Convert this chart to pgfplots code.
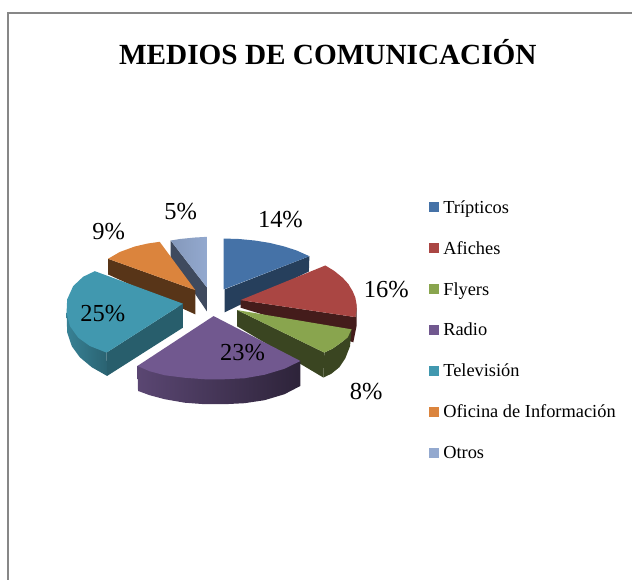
\documentclass[border=0pt]{standalone}
\usepackage{fontspec}
\setmainfont{Liberation Serif}
\usepackage{pgfplots}
\pgfplotsset{compat=1.18}
\definecolor{cblue}{HTML}{4572A7}
\definecolor{cred}{HTML}{AA4643}
\definecolor{cgreen}{HTML}{89A54E}
\definecolor{cpurple}{HTML}{71588F}
\definecolor{cteal}{HTML}{4198AF}
\definecolor{corange}{HTML}{DB843D}
\definecolor{clight}{HTML}{93A9CF}
\definecolor{cslate}{HTML}{3F4A5E}
\pgfplotsset{
  face/.style={draw=none,forget plot,mark=none,fill=#1},
  sface/.style 2 args={draw=none,forget plot,mark=none,left color=#1,right color=#2},
  leg/.style={legend image code/.code={\fill[##1] (0pt,-5pt) rectangle (10pt,5pt);},fill=#1,draw=none},
}
\begin{document}
\begin{tikzpicture}
\begin{axis}[
    scale only axis,
    width=633pt, height=581pt,
    xmin=0, xmax=633, ymin=0, ymax=581,
    y dir=reverse,
    hide axis,
    clip=false,
    legend style={at={(axis cs:430,198.5)},anchor=north west,draw=none,fill=none,
      font=\fontsize{18.4}{18.4}\selectfont,row sep=22.7pt,column sep=2pt,inner sep=0pt,
      nodes={inner sep=2pt}},
    legend cell align=left,
    ]
% page extent
\addplot[draw=none,forget plot,mark=none] coordinates {(0,0) (633,581)};
% frame
\addplot[draw=black!47,line width=2.5pt,forget plot,mark=none] coordinates {(8,581) (8,13) (633,13)};
% Otros
\addplot[face=cslate] coordinates {(171,241) (207.3,288) (207.3,312) (171,258)};
\addplot[sface={clight!90!black}{clight}] coordinates {(171,241) (180,239.5) (195,238) (207.3,237.3) (207.3,288)};
% Oficina
\addplot[face=corange!40!black] coordinates {(108.3,259.3) (195.7,290.7) (195.7,315) (108.3,275)};
\addplot[face=corange] coordinates {(108.3,259.3) (120,252.5) (135,247) (148,244) (160,242.3) (195.7,290.7)};
% Television
\addplot[sface={cteal!85!black}{cteal!65!black}] coordinates {(66.7,313) (67.3,333) (72,347) (80,358) (92,368) (107.3,376.7) (106.7,350) (70,320)};
\addplot[face=cteal!62!black] coordinates {(106.7,353.3) (183.3,304.3) (183.3,328.3) (107.3,376.7)};
\addplot[face=cteal] coordinates {(95,271.7) (83.3,277.3) (73.3,286.7) (67.3,300) (66.7,313.3) (70,326.7) (78.3,338.3) (90,346.7) (106.7,353.3) (183.3,304.3)};
% Tripticos
\addplot[face=cblue!55!black] coordinates {(225,290) (310,256.7) (309.5,272) (225,313)};
\addplot[face=cblue] coordinates {(224,239) (239.8,239.5) (255.3,241) (270.2,243.4) (284.2,246.8) (297,250.9) (310,256.7) (224,290)};
% Afiches
\addplot[face=cred!40!black] coordinates {(241,300.7) (356,317.7) (357.3,305) (357.4,326) (354,343) (345,340) (241,308.3)};
\addplot[face=cred] coordinates {(326,266) (335,271.5) (343.3,278.3) (349,284.5) (353.3,291.7) (356,298) (357.3,305) (357.2,311) (356,317.7) (241,300.7)};
% Flyers
\addplot[face=cgreen!42!black] coordinates {(352.3,330) (348.3,338.3) (341.7,343.3) (333.3,349.3) (325,353.3) (324,378.3) (332,374.5) (340,368) (346,359) (350.7,347)};
\addplot[face=cgreen!42!black] coordinates {(237.7,310.7) (325,353.3) (324,378.3) (237.7,327)};
\addplot[face=cgreen] coordinates {(237.7,310.7) (352.3,330) (348.3,338.3) (341.7,343.3) (333.3,349.3) (325,353.3)};
% Radio
\addplot[sface={cpurple!80!black}{cpurple!40!black}] coordinates {(137.7,366.7) (301,361.7) (301,386.7) (285,395) (265,401) (245,404) (225,405) (205,405) (185,403.5) (165,400) (150,396) (138.3,391.7)};
\addplot[face=cpurple] coordinates {(214,316.7) (137.7,366.7) (150,372) (165,376) (185,378.5) (205,380) (225,380) (245,379) (265,375.5) (285,369.5) (301,361.7)};
% data labels
\addplot[draw=none,mark=none,forget plot,point meta=explicit,
  nodes near coords={\pgfmathprintnumber[assume math mode=true]{\pgfplotspointmeta}\%},
  nodes near coords style={anchor=center,inner sep=0pt,text=black,font=\fontsize{24.5}{24.5}\selectfont}]
  table[meta=v] {
x y v
281 220 14
387 290 16
367 392 8
243 353 23
103 314 25
109 232 9
181 212 5
};
\node[font=\fontsize{29.3}{29.3}\selectfont\bfseries] at (axis cs:328.5,52) {MEDIOS DE COMUNICACIÓN};
% legend
\addlegendimage{leg=cblue}\addlegendentry{Trípticos}
\addlegendimage{leg=cred}\addlegendentry{Afiches}
\addlegendimage{leg=cgreen}\addlegendentry{Flyers}
\addlegendimage{leg=cpurple}\addlegendentry{Radio}
\addlegendimage{leg=cteal}\addlegendentry{Televisión}
\addlegendimage{leg=corange}\addlegendentry{Oficina de Información}
\addlegendimage{leg=clight}\addlegendentry{Otros}
\end{axis}
\end{tikzpicture}
\end{document}
